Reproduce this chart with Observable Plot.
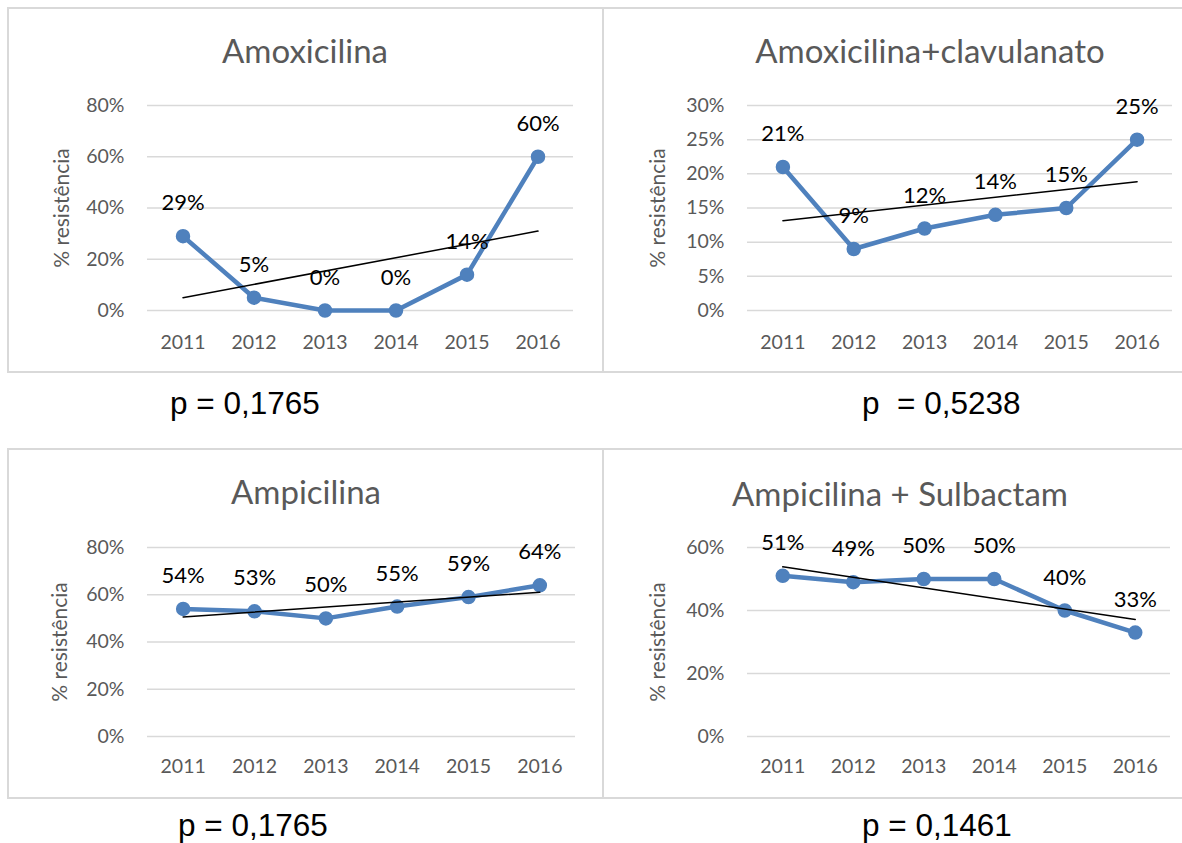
<!DOCTYPE html>
<html><head><meta charset="utf-8">
<script src="https://cdn.jsdelivr.net/npm/d3@7"></script>
<script src="https://cdn.jsdelivr.net/npm/@observablehq/plot@0.6"></script>
<style>
body{margin:0;background:#fff;}
#root{position:relative;width:1182px;height:843px;overflow:hidden;background:#fff;}
.panel{position:absolute;box-sizing:border-box;border:2px solid #d9d9d9;}
.title{position:absolute;transform:translate(-50%,-50%);font-family:Lato, sans-serif;font-size:33px;color:#595959;white-space:nowrap;}
.ylab{position:absolute;transform:translate(-50%,-50%) rotate(-90deg);font-family:Lato, sans-serif;font-size:21px;color:#595959;white-space:nowrap;}
.pval{position:absolute;transform:translateY(-50%);font-family:"Liberation Sans",Arial,sans-serif;font-size:31.5px;line-height:1;color:#000;white-space:pre;}
.chart{position:absolute;}
</style></head>
<body><div id="root"></div>
<script>
const years = [2011, 2012, 2013, 2014, 2015, 2016];
const titles = ["Amoxicilina", "Amoxicilina+clavulanato", "Ampicilina", "Ampicilina + Sulbactam"];
const amoxicilina = [29, 5, 0, 0, 14, 60];
const amoxClavulanato = [21, 9, 12, 14, 15, 25];
const ampicilina = [54, 53, 50, 55, 59, 64];
const ampSulbactam = [51, 49, 50, 50, 40, 33];
const pValues = ["p = 0,1765", "p  = 0,5238", "p = 0,1765", "p = 0,1461"];
const yTicks1 = [0, 20, 40, 60, 80];
const yTicks2 = [0, 5, 10, 15, 20, 25, 30];
const yTicks3 = [0, 20, 40, 60, 80];
const yTicks4 = [0, 20, 40, 60];
const yLabel = "% resistência";

const series = [amoxicilina, amoxClavulanato, ampicilina, ampSulbactam];
const ticks = [yTicks1, yTicks2, yTicks3, yTicks4];

// layout (positions only)
const layout = [
  {box:[7,7,597,366], svg:[8,8,595,364], m:[97,30,62,139], title:[305,50], p:[170,404], ylab:[60,208], pad:25},
  {box:[602,7,590,366], svg:[603,8,579,364], m:[97,10,62,144], title:[930,50], p:[862,404], ylab:[656,208], pad:25},
  {box:[7,448,597,351], svg:[8,449,595,349], m:[98,28,62,139], title:[306,491], p:[178,826], ylab:[58,642], pad:23},
  {box:[602,448,590,351], svg:[603,449,579,349], m:[98,12,62,144], title:[900,493], p:[862,826], ylab:[656,642], pad:23}
];

const root = document.getElementById("root");
const blue = "#4F81BD";

function addDiv(cls, text, x, y) {
  const d = document.createElement("div");
  d.className = cls;
  d.textContent = text;
  Object.assign(d.style, {left: x + "px", top: y + "px"});
  root.appendChild(d);
}

series.forEach((vals, i) => {
  const L = layout[i];
  const box = document.createElement("div");
  box.className = "panel";
  Object.assign(box.style, {left:L.box[0]+"px", top:L.box[1]+"px", width:L.box[2]+"px", height:L.box[3]+"px"});
  root.appendChild(box);

  const data = years.map((y, j) => ({year: y, value: vals[j]}));
  const t = ticks[i];
  const chart = Plot.plot({
    width: L.svg[2], height: L.svg[3],
    marginTop: L.m[0], marginRight: L.m[1], marginBottom: L.m[2], marginLeft: L.m[3],
    style: {background: "transparent", fontFamily: "Lato, sans-serif", overflow: "visible"},
    x: {type: "linear", domain: [years[0] - 0.5, years[years.length - 1] + 0.5]},
    y: {domain: [t[0], t[t.length - 1]]},
    marks: [
      Plot.gridY(t, {stroke: "#d9d9d9", strokeOpacity: 1, strokeWidth: 1.5}),
      Plot.axisX(years, {tickSize: 0, tickPadding: L.pad, tickFormat: d => String(d), fontSize: 19.5, fill: "#595959", label: null}),
      Plot.axisY(t, {tickSize: 0, tickPadding: 23, tickFormat: d => d + "%", fontSize: 19.5, fill: "#595959", label: null}),
      Plot.line(data, {x: "year", y: "value", stroke: blue, strokeWidth: 4.5}),
      Plot.dot(data, {x: "year", y: "value", r: 6.5, fill: blue, stroke: blue}),
      Plot.linearRegressionY(data, {x: "year", y: "value", ci: 0, stroke: "#000", strokeWidth: 1.5}),
      Plot.text(data, {x: "year", y: "value", text: d => d.value + "%", dy: -33, fontSize: 22, fill: "#000"})
    ]
  });
  chart.classList.add("chart");
  Object.assign(chart.style, {left: L.svg[0] + "px", top: L.svg[1] + "px"});
  root.appendChild(chart);

  addDiv("title", titles[i], L.title[0], L.title[1]);
  addDiv("ylab", yLabel, L.ylab[0], L.ylab[1]);
  addDiv("pval", pValues[i], L.p[0], L.p[1]);
});
</script>
</body></html>
